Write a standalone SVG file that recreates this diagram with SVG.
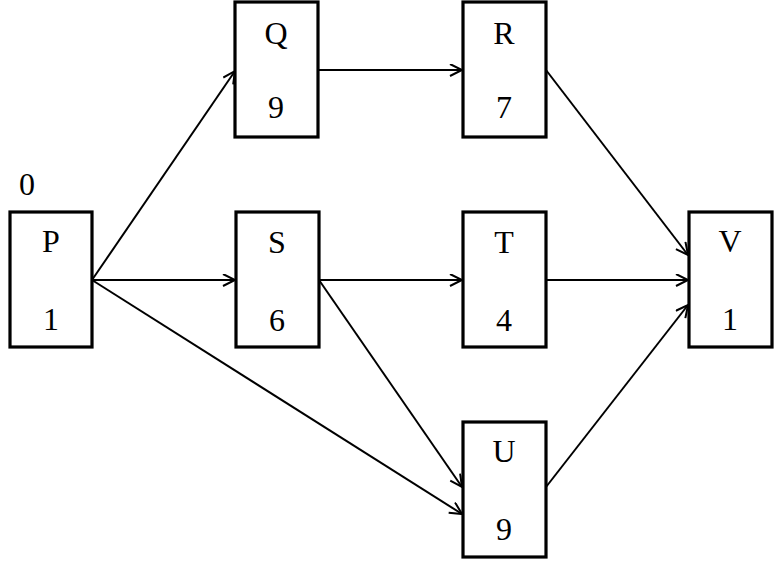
<svg xmlns="http://www.w3.org/2000/svg" width="774" height="567" viewBox="0 0 774 567">
<style>
.box{fill:#fff;stroke:#000;stroke-width:3.2}
.t{font-family:"Liberation Serif","Times New Roman",serif;font-size:32px;fill:#000;text-anchor:middle}
.e{stroke:#000;stroke-width:2;fill:none;marker-end:url(#a)}
</style>
<defs>
<marker id="a" markerUnits="userSpaceOnUse" markerWidth="16" markerHeight="14" refX="13" refY="6.5" orient="auto">
<path d="M1,0.5 L13,6.5 L1,12.5" fill="none" stroke="#000" stroke-width="2"/>
</marker>
</defs>
<rect width="774" height="567" fill="#fff"/>
<g id="connectors">
<line class="e" x1="92" y1="280" x2="235" y2="71"/>
<line class="e" x1="318" y1="70" x2="462" y2="70"/>
<line class="e" x1="92" y1="280" x2="235" y2="280"/>
<line class="e" x1="319" y1="280" x2="462" y2="280"/>
<line class="e" x1="92" y1="280" x2="462" y2="514"/>
<line class="e" x1="319" y1="280" x2="462" y2="487"/>
<line class="e" x1="546" y1="70" x2="688" y2="255"/>
<line class="e" x1="546" y1="280" x2="688" y2="280"/>
<line class="e" x1="546" y1="487" x2="688" y2="305"/>
</g>
<text class="t" x="27" y="195">0</text>
<g id="P"><rect class="box" x="10" y="212" width="82" height="135"/><text class="t" x="51" y="252">P</text><text class="t" x="51" y="330">1</text></g>
<g id="Q"><rect class="box" x="235" y="2" width="83" height="135"/><text class="t" x="276" y="44">Q</text><text class="t" x="276" y="118">9</text></g>
<g id="R"><rect class="box" x="463" y="2" width="83" height="135"/><text class="t" x="504" y="44">R</text><text class="t" x="504" y="118">7</text></g>
<g id="S"><rect class="box" x="236" y="212" width="83" height="135"/><text class="t" x="277" y="253">S</text><text class="t" x="277" y="331">6</text></g>
<g id="T"><rect class="box" x="463" y="212" width="83" height="135"/><text class="t" x="504" y="253">T</text><text class="t" x="504" y="331">4</text></g>
<g id="U"><rect class="box" x="463" y="422" width="83" height="135"/><text class="t" x="504" y="462">U</text><text class="t" x="504" y="540">9</text></g>
<g id="V"><rect class="box" x="689" y="212" width="83" height="135"/><text class="t" x="730" y="252">V</text><text class="t" x="730" y="330">1</text></g>
</svg>
